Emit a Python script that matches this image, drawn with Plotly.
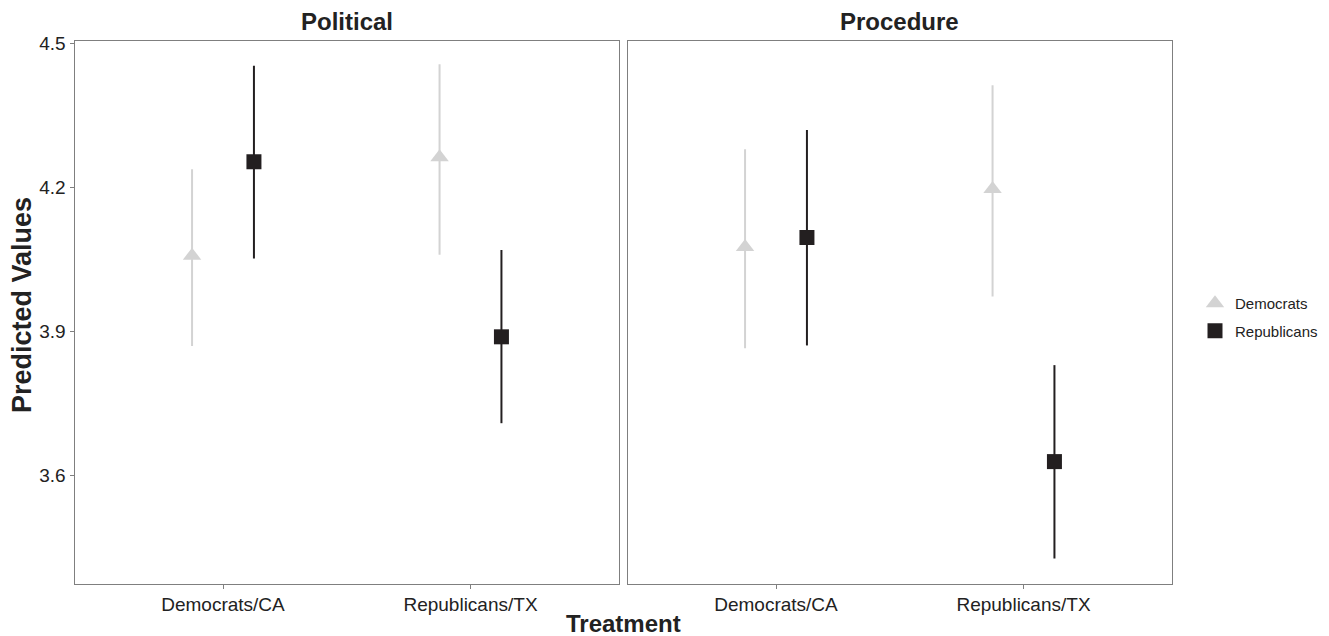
import plotly.graph_objects as go

# ---- data ----
categories = ["Democrats/CA", "Republicans/TX"]
panels = ["Political", "Procedure"]
groups = ["Democrats", "Republicans"]

# predicted values [panel][category]
dem_pred = {"Political": [4.057, 4.262], "Procedure": [4.075, 4.196]}
dem_low = {"Political": [3.869, 4.059], "Procedure": [3.864, 3.972]}
dem_high = {"Political": [4.237, 4.456], "Procedure": [4.279, 4.412]}

rep_pred = {"Political": [4.253, 3.888], "Procedure": [4.095, 3.628]}
rep_low = {"Political": [4.051, 3.708], "Procedure": [3.870, 3.426]}
rep_high = {"Political": [4.453, 4.069], "Procedure": [4.319, 3.829]}

y_ticks = [3.6, 3.9, 4.2, 4.5]

# ---- style ----
W, H = 1329, 636
DEM_COLOR = "#d3d3d3"
REP_COLOR = "#231f20"
BORDER = "#7f7f7f"
FONT = "Liberation Sans, Arial, Helvetica, sans-serif"
dodge = 0.125

def px_x(p):
    return p / W

def px_y(p):
    return 1 - p / H

fig = go.Figure()

series = [
    ("Democrats", dem_pred, dem_low, dem_high, DEM_COLOR, "triangle-up", 16, -dodge),
    ("Republicans", rep_pred, rep_low, rep_high, REP_COLOR, "square", 15, dodge),
]

for pi, panel in enumerate(panels):
    xa = "x" if pi == 0 else "x2"
    ya = "y" if pi == 0 else "y2"
    for name, pred, low, high, color, sym, size, off in series:
        xs = [i + 1 + off for i in range(len(categories))]
        ys = pred[panel]
        plus = [h - v for h, v in zip(high[panel], ys)]
        minus = [v - l for v, l in zip(ys, low[panel])]
        fig.add_trace(go.Scatter(
            x=xs, y=ys, mode="markers", name=name,
            legendgroup=name, showlegend=(pi == 0),
            marker=dict(symbol=sym, size=size, color=color, line=dict(width=0)),
            error_y=dict(type="data", symmetric=False, array=plus, arrayminus=minus,
                         color=color, thickness=2, width=0),
            xaxis=xa, yaxis=ya,
        ))

xdom1 = [px_x(74.5), px_x(619)]
xdom2 = [px_x(627.5), px_x(1172)]
ydom = [px_y(583.5), px_y(40.5)]

common_x = dict(
    range=[0.4, 2.6], tickmode="array", tickvals=[1, 2], ticktext=categories,
    showgrid=False, zeroline=False, showline=True, mirror=True, automargin=False,
    linecolor=BORDER, linewidth=1, ticks="outside", ticklen=4, tickcolor=BORDER,
    tickfont=dict(family=FONT, size=19, color="#222"), fixedrange=True,
)
common_y = dict(
    range=[3.374, 4.5054], showgrid=False, zeroline=False, showline=True, mirror=True,
    automargin=False, linecolor=BORDER, linewidth=1, domain=ydom, fixedrange=True,
)

fig.update_layout(
    width=W, height=H,
    margin=dict(l=0, r=0, t=0, b=0, pad=0, autoexpand=False),
    paper_bgcolor="white", plot_bgcolor="white",
    xaxis=dict(domain=xdom1, anchor="y", **common_x),
    xaxis2=dict(domain=xdom2, anchor="y2", **common_x),
    yaxis=dict(anchor="x", tickmode="array", tickvals=y_ticks,
               ticktext=[f"{v:.1f}" for v in y_ticks],
               ticks="outside", ticklen=4, tickcolor=BORDER,
               tickfont=dict(family=FONT, size=19, color="#222"), **common_y),
    yaxis2=dict(anchor="x2", matches="y", showticklabels=False, ticks="", **common_y),
    showlegend=True,
    legend=dict(x=px_x(1195), y=px_y(287), xanchor="left", yanchor="top",
                font=dict(family=FONT, size=15, color="#222"),
                bgcolor="rgba(0,0,0,0)", itemsizing="trace", tracegroupgap=5),
    font=dict(family=FONT),
)

annotations = [
    dict(text="<b>Political</b>", x=(xdom1[0] + xdom1[1]) / 2, y=px_y(22),
         font=dict(size=24, color="#222")),
    dict(text="<b>Procedure</b>", x=(xdom2[0] + xdom2[1]) / 2, y=px_y(22),
         font=dict(size=24, color="#222")),
    dict(text="<b>Predicted Values</b>", x=px_x(22), y=px_y(305), textangle=-90,
         font=dict(size=27, color="#222")),
    dict(text="<b>Treatment</b>", x=px_x(623), y=px_y(623),
         font=dict(size=24, color="#222")),
]
for a in annotations:
    fig.add_annotation(xref="paper", yref="paper", showarrow=False,
                       xanchor="center", yanchor="middle",
                       font_family=FONT, **{k: v for k, v in a.items()})

fig.write_html("out.html")
